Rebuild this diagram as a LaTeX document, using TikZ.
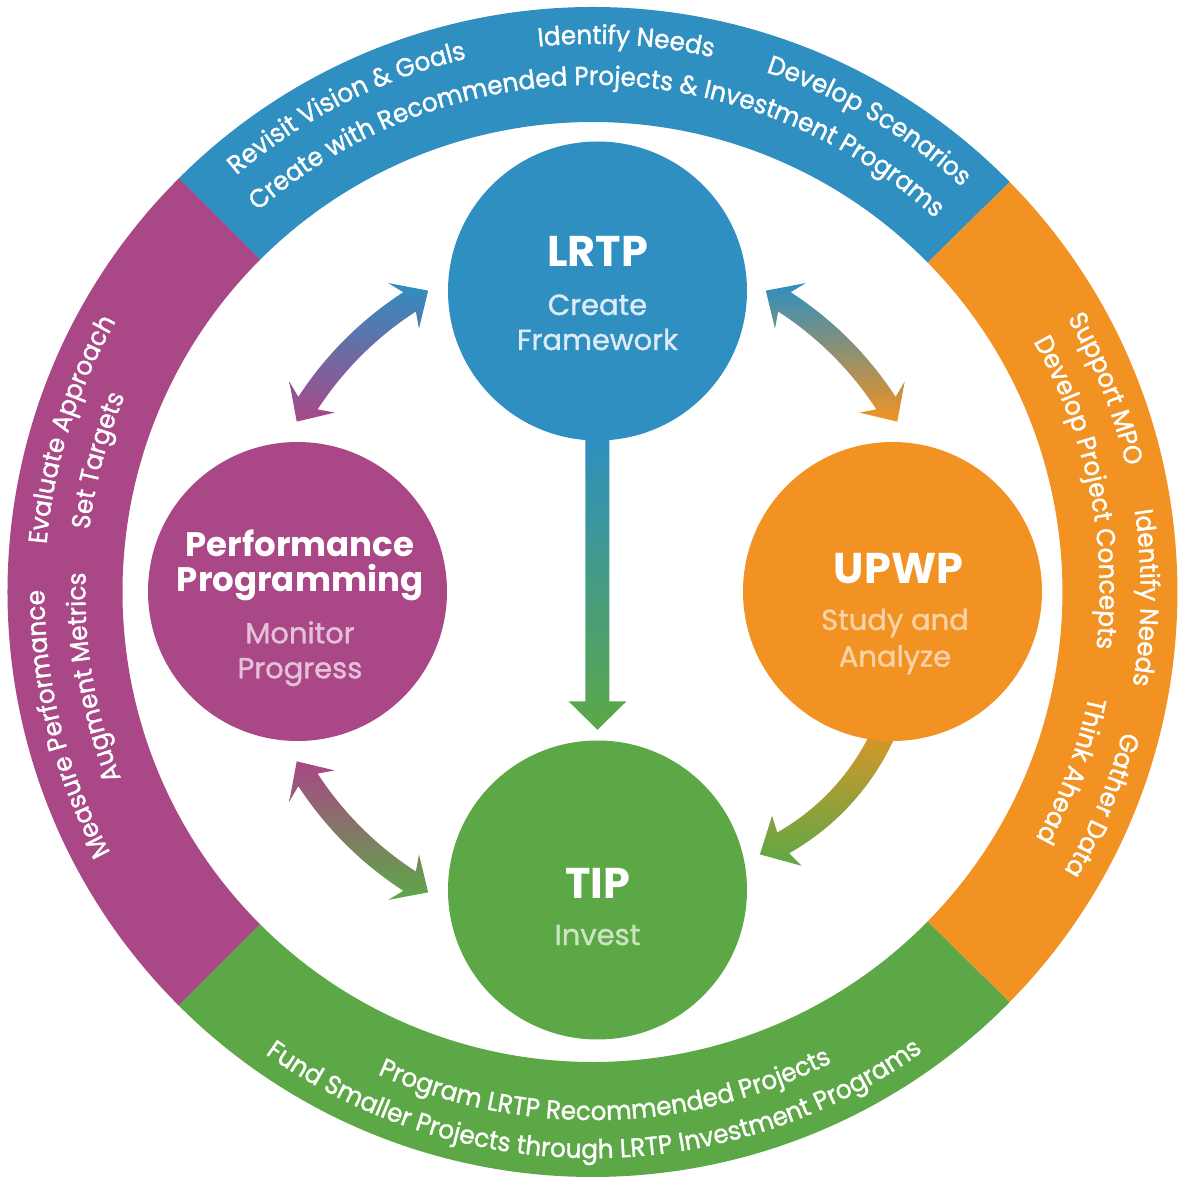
\documentclass[tikz,border=0pt]{standalone}
\usepackage{fontspec}
\setmainfont{Poppins}
\newfontfamily\ringfont[FakeBold=1.3,FakeStretch=0.95]{Poppins}
\newfontfamily\subfont[FakeBold=1.2]{Poppins}
\usetikzlibrary{decorations.text,calc}
\definecolor{cblue}{HTML}{2E8FC0}
\definecolor{cpurple}{HTML}{A94787}
\definecolor{corange}{HTML}{F29222}
\definecolor{cgreen}{HTML}{5CA846}
\definecolor{sblue}{HTML}{DCEBF5}
\definecolor{spurple}{HTML}{E5C0D9}
\definecolor{sorange}{HTML}{F9D2A6}
\definecolor{sgreen}{HTML}{CBE4C1}
\newcommand\ringtxt{\ringfont\fontsize{26}{28}\selectfont}
\newcommand\cwtext[3]{\path[decorate,decoration={text along path,text align=center,text color=white,text={|\ringtxt|#3}}] (#1+70:#2) arc[start angle=#1+70,end angle=#1-70,radius=#2];}
\newcommand\ccwtext[3]{\path[decorate,decoration={text along path,text align=center,text color=white,text={|\ringtxt|#3}}] (#1-70:#2) arc[start angle=#1-70,end angle=#1+70,radius=#2];}
\newcommand\dblarrow[4]{%
 \pgfmathsetmacro\dAH{#3+4.8}\pgfmathsetmacro\dAN{#3+3.6}%
 \pgfmathsetmacro\dBH{#4-4.8}\pgfmathsetmacro\dBN{#4-3.6}%
 \shade[top color=#1,bottom color=#2] (#3:345) -- (\dAH:372.5) -- (\dAN:356.5) arc[start angle=\dAN,end angle=\dBN,radius=356.5] -- (\dBH:372.5) -- (#4:345) -- (\dBH:317.5) -- (\dBN:333.5) arc[start angle=\dBN,end angle=\dAN,radius=333.5] -- (\dAH:317.5) -- cycle;}
\begin{document}
\begin{tikzpicture}[x=1pt,y=1pt,
  hub/.style={circle,inner sep=0pt,minimum size=299pt},
  ttl/.style={anchor=base,text=white,font=\bfseries\fontsize{43}{45}\selectfont},
  ttlp/.style={anchor=base,text=white,font=\bfseries\fontsize{34}{36}\selectfont},
  sub/.style={anchor=base,font=\subfont\fontsize{29}{31}\selectfont}]
\useasboundingbox (-592.5,-588.5) rectangle (588.5,591.5);
\coordinate (rc) at (0,-0.5);
\coordinate (hubc) at (4.5,0);
\coordinate (bendc) at (72.5,-42.5);
% ring
\begin{scope}[shift={(rc)}]
\fill[cblue] (44.5:470) arc[start angle=44.5,end angle=135,radius=470] -- (135:585) arc[start angle=135,end angle=44.5,radius=585] -- cycle;
\fill[cpurple] (135:470) arc[start angle=135,end angle=225,radius=470] -- (225:585) arc[start angle=225,end angle=135,radius=585] -- cycle;
\fill[cgreen] (225:470) arc[start angle=225,end angle=315.5,radius=470] -- (315.5:585) arc[start angle=315.5,end angle=225,radius=585] -- cycle;
\fill[corange] (315.5:470) arc[start angle=315.5,end angle=404.5,radius=470] -- (404.5:585) arc[start angle=404.5,end angle=315.5,radius=585] -- cycle;
% ring texts
\cwtext{116.9}{548}{Revisit Vision {\&} Goals}
\cwtext{86.5}{548}{Identify Needs}
\cwtext{59.6}{548}{Develop Scenarios}
\cwtext{89.4}{507}{Create with Recommended Projects {\&} Investment Programs}
\cwtext{21.6}{548}{Support MPO}
\cwtext{-0.6}{548}{Identify Needs}
\cwtext{-22.7}{548}{Gather Data}
\cwtext{11.6}{507}{Develop Project Concepts}
\cwtext{-20.5}{507}{Think Ahead}
\cwtext{162.7}{548}{Evaluate Approach}
\cwtext{194.1}{548}{Measure Performance}
\cwtext{165.1}{507}{Set Targets}
\cwtext{189.7}{507}{Augment Metrics}
\ccwtext{271.5}{528}{Program LRTP Recommended Projects}
\ccwtext{270.2}{566}{Fund Smaller Projects through LRTP Investment Programs}
\end{scope}
% circles (positions)
\path (5,300.5) node[hub] (nLRTP) {} (-295,0) node[hub] (nPERF) {} (300,0) node[hub] (nUPWP) {} (5,-298.5) node[hub] (nTIP) {};
% arrows
\begin{scope}[shift={(hubc)}]
\dblarrow{cblue}{cpurple}{119.3}{150.5}
\dblarrow{cblue}{corange}{29.5}{60.7}
\dblarrow{cpurple}{cgreen}{209.5}{240.7}
\end{scope}
\begin{scope}[shift={(bendc)}]
\shade[top color=corange,bottom color=cgreen] (-18:252) arc[start angle=-18,end angle=-60.5,radius=252] -- (-59.5:269) -- (-66.7:240) -- (-59.5:211) -- (-60.5:228) arc[start angle=-60.5,end angle=-18,radius=228] -- cycle;
\end{scope}
\shade[top color=cblue,bottom color=cgreen] ($(nLRTP.south)+(-12,2)$) -- ($(nTIP.north)+(-12,39)$) -- ($(nTIP.north)+(-29,39)$) -- ($(nTIP.north)+(0,10.5)$) -- ($(nTIP.north)+(29,39)$) -- ($(nTIP.north)+(12,39)$) -- ($(nLRTP.south)+(12,2)$) -- cycle;
% circles (fill)
\fill[cblue] (nLRTP) circle[radius=149.5];
\fill[cpurple] (nPERF) circle[radius=149.5];
\fill[corange] (nUPWP) circle[radius=149.5];
\fill[cgreen] (nTIP) circle[radius=149.5];
% texts
\node[ttl] (tLRTP) at (5,324.5) {LRTP};
\node[sub,text=sblue] (sLRTPa) at (5,276.5) {Create};
\node[sub,text=sblue] (sLRTPb) at (5,241.5) {Framework};
\node[ttlp] (tPERFa) at (-292.5,34.8) {Performance};
\node[ttlp] (tPERFb) at (-292.5,-0.2) {Programming};
\node[sub,text=spurple] (sPERFa) at (-292.5,-51.8) {Monitor};
\node[sub,text=spurple] (sPERFb) at (-292.5,-86.8) {Progress};
\node[ttl] (tUPWP) at (306,8.2) {UPWP};
\node[sub,text=sorange] (sUPWPa) at (302.5,-38.5) {Study and};
\node[sub,text=sorange] (sUPWPb) at (302.5,-75.2) {Analyze};
\node[ttl] (tTIP) at (5,-306.8) {TIP};
\node[sub,text=sgreen] (sTIPa) at (5,-353.5) {Invest};
\end{tikzpicture}
\end{document}
